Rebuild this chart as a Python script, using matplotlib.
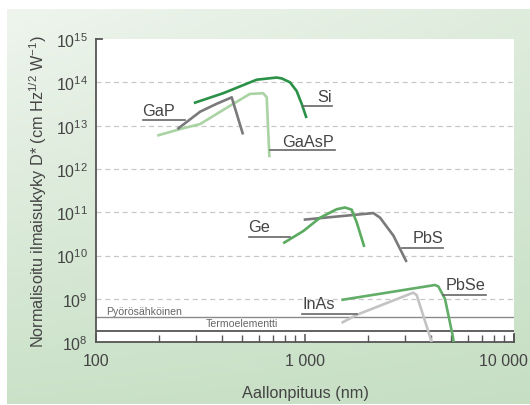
import numpy as np
import matplotlib
matplotlib.use("Agg")
import matplotlib.pyplot as plt
from matplotlib.ticker import FixedLocator, NullFormatter
from matplotlib.transforms import ScaledTranslation

plt.rcParams['font.family'] = ['Liberation Sans', 'DejaVu Sans']
plt.rcParams['mathtext.fontset'] = 'custom'
plt.rcParams['mathtext.rm'] = 'Liberation Sans'
plt.rcParams['mathtext.it'] = 'Liberation Sans'

NARROW = ['Liberation Sans Narrow', 'Liberation Sans', 'DejaVu Sans']

# ---- data (wavelength nm, D*) ----
si_x = [298, 406, 587, 732, 774, 848, 912, 964, 1012]
si_y = [3.4e13, 5.6e13, 1.15e14, 1.29e14, 1.23e14, 1.0e14, 6.3e13, 3.2e13, 1.6e13]

gap_x = [248, 315, 378, 446, 503]
gap_y = [8.7e12, 2.1e13, 3.2e13, 4.5e13, 6.7e12]

gaasp_x = [199, 252, 315, 454, 545, 631, 656, 675]
gaasp_y = [6.0e12, 8.3e12, 1.09e13, 3.2e13, 5.4e13, 5.6e13, 4.5e13, 2.0e12]

ge_x = [796, 982, 1180, 1419, 1554, 1672, 1767, 1914]
ge_y = [2.0e10, 3.7e10, 7.5e10, 1.18e11, 1.29e11, 1.15e11, 5.9e10, 1.7e10]

pbs_x = [1000, 2124, 2287, 2648, 3043]
pbs_y = [6.8e10, 9.6e10, 7.5e10, 2.9e10, 7.6e9]

pbse_x = [1514, 4186, 4345, 4677, 5092, 5150]
pbse_y = [9.6e8, 2.1e9, 1.95e9, 1.0e9, 1.4e8, 1.0e8]

inas_x = [1514, 1767, 3297, 3423, 3993, 4030]
inas_y = [2.9e8, 4.3e8, 1.4e9, 1.23e9, 1.2e8, 1.0e8]

pyro_level = 3.8e8
thermo_level = 1.85e8

x_ticks = [100, 1000, 10000]
x_ticklabels = ["100", "1 000", "10 000"]
y_ticks = [1e8, 1e9, 1e10, 1e11, 1e12, 1e13, 1e14, 1e15]
y_ticklabels = [r"$10^{%d}$" % e for e in range(8, 16)]

# ---- figure ----
W, H = 530, 406
fig = plt.figure(figsize=(W / 100, H / 100), dpi=100)
fig.patch.set_facecolor('white')

# gradient background frame
bg = fig.add_axes([7 / W, 1 - 405 / H, (530 - 7) / W, (405 - 10) / H], zorder=0)
ny, nx = 100, 160
yy, xx = np.mgrid[0:1:ny * 1j, 0:1:nx * 1j]  # yy=0 top
t = np.clip(0.55 * yy + 0.35 * xx + 0.25 * yy * (1 - xx), 0, 1)
c_light = np.array([0.935, 0.96, 0.93])
c_dark = np.array([0.76, 0.865, 0.75])
img = c_light[None, None, :] * (1 - t[..., None]) + c_dark[None, None, :] * t[..., None]
bg.imshow(img, aspect='auto', extent=[0, 1, 0, 1], origin='upper')
bg.set_axis_off()

# main axes
L, R, T, B = 96, 514, 40, 343.3
ax = fig.add_axes([L / W, 1 - B / H, (R - L) / W, (B - T) / H], zorder=1)
ax.set_facecolor('white')
ax.set_xscale('log')
ax.set_yscale('log')
ax.set_xlim(100, 10000)
ax.set_ylim(1e8, 1e15)

spine_c = '#555555'
for s in ['top', 'right']:
    ax.spines[s].set_visible(False)
for s in ['left', 'bottom']:
    ax.spines[s].set_color(spine_c)
    ax.spines[s].set_linewidth(1.3)

# grid lines
for yv in [1e9, 1e10, 1e11, 1e12, 1e13, 1e14]:
    ax.axhline(yv, color='#c8c8c8', lw=0.9, ls=(0, (4, 3)), zorder=1)

# reference lines
ax.axhline(pyro_level, color='#8a8a8a', lw=1.0, zorder=2)
ax.axhline(thermo_level, color='#555555', lw=1.3, zorder=2)

# curves
lw = 1.9
ax.plot(gaasp_x, gaasp_y, color='#a9d3a3', lw=lw, zorder=3, solid_joinstyle='round')
ax.plot(gap_x, gap_y, color='#7a7a7c', lw=lw, zorder=3)
ax.plot(si_x, si_y, color='#2a9147', lw=lw, zorder=4, solid_joinstyle='round')
ax.plot(pbs_x, pbs_y, color='#7a7a7c', lw=lw, zorder=3, solid_joinstyle='round')
ax.plot(ge_x, ge_y, color='#5aab60', lw=lw, zorder=4, solid_joinstyle='round')
ax.plot(inas_x, inas_y, color='#c3c3c5', lw=lw, zorder=3)
ax.plot(pbse_x, pbse_y, color='#62ad68', lw=lw, zorder=4, solid_joinstyle='round')

# ticks
ax.xaxis.set_major_locator(FixedLocator(x_ticks))
ax.set_xticklabels(x_ticklabels, family=NARROW)
minor = [m * d for d in (100, 1000) for m in range(2, 10)]
ax.xaxis.set_minor_locator(FixedLocator(minor))
ax.xaxis.set_minor_formatter(NullFormatter())
ax.tick_params(axis='x', which='major', direction='in', length=6, width=1.1,
               color=spine_c, labelsize=11.5, labelcolor='#444444', pad=8)
ax.tick_params(axis='x', which='minor', direction='in', length=5, width=1.0,
               color=spine_c)
# shift last x label left
lbl = ax.get_xticklabels()[-1]
lbl.set_transform(lbl.get_transform() + ScaledTranslation(-11 / 100, 0, fig.dpi_scale_trans))

ax.yaxis.set_major_locator(FixedLocator(y_ticks))
ax.set_yticklabels(y_ticklabels)
ax.yaxis.set_minor_locator(FixedLocator([]))
ax.tick_params(axis='y', which='major', direction='in', length=0,
               labelsize=11.5, labelcolor='#444444', pad=6)
# top-left tick at 1e15 and right end tick at 1e4
ax.plot([0, 0.014], [1, 1], transform=ax.transAxes, color=spine_c, lw=1.3,
        clip_on=False, zorder=5)
ax.plot([1, 1], [0, 0.027], transform=ax.transAxes, color=spine_c, lw=1.3,
        clip_on=False, zorder=5)

ax.set_xlabel("Aallonpituus (nm)", fontsize=11.7, color='#444444', labelpad=12)
ax.set_ylabel(r"Normalisoitu ilmaisukyky D* (cm Hz$^{1/2}$ W$^{-1}$)",
              fontsize=11.7, color='#444444', labelpad=5)


# labels with leader lines (pixel positions converted to axes fraction)
def fx(px):
    return (px - L) / (R - L)


def fy(py):
    return (B - py) / (B - T)


labels = [
    ("GaP", 158.3, 111.7, 143.3, 185, 121),
    ("Si", 325, 97.3, 303.3, 331.7, 107.3),
    ("GaAsP", 308.3, 142.7, 270, 335, 151.3),
    ("Ge", 259.3, 227.3, 249, 290, 237.7),
    ("PbS", 428.3, 239, 401.7, 443.3, 249.3),
    ("PbSe", 465.7, 285.7, 443.3, 485.7, 295.7),
    ("InAs", 318.3, 305, 301.7, 357.3, 315.3),
]
for txt, tx, ty, x0, x1, ly in labels:
    ax.text(fx(tx), fy(ty), txt, transform=ax.transAxes, ha='center',
            va='center', fontsize=11.7, color='#444444', zorder=6)
    ax.plot([fx(x0), fx(x1)], [fy(ly), fy(ly)], transform=ax.transAxes,
            color='#666666', lw=1.2, zorder=6)

ax.text(fx(144.4), fy(311.7), "Pyörösähköinen", transform=ax.transAxes,
        ha='center', va='center', fontsize=7.6, color='#666666', zorder=6)
ax.text(fx(241.4), fy(324.5), "Termoelementti", transform=ax.transAxes,
        ha='center', va='center', fontsize=7.6, color='#666666', zorder=6)

fig.savefig("out.png", dpi=100)
